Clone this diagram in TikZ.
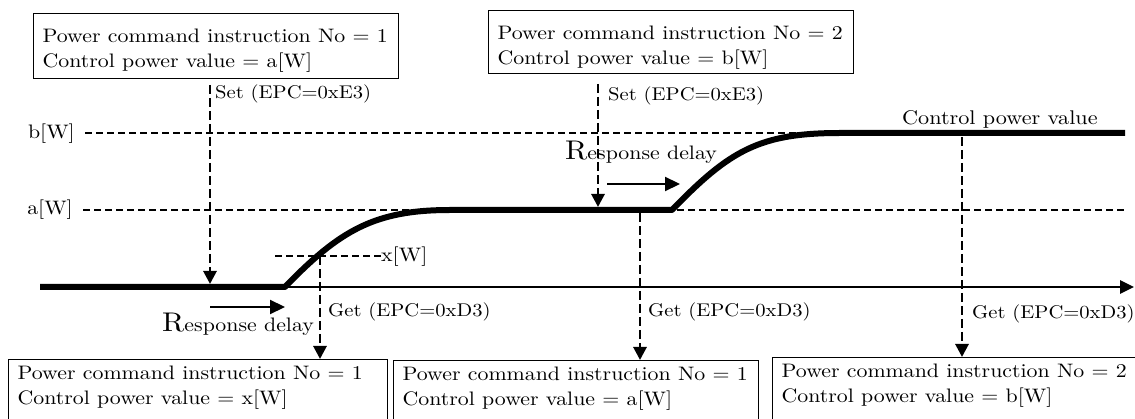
\documentclass[tikz,border=0pt]{standalone}
\usepackage{fontspec}
\setmainfont{lmroman10-regular.otf}[FakeStretch=1.12]
\usetikzlibrary{arrows.meta}
\newcommand\fs{\fontsize{19.5}{25}\selectfont}
\newcommand\fsl{\fontsize{18.4}{22}\selectfont}
\newcommand\fsc{\fontsize{19.8}{24}\selectfont}
\newcommand\bigR{{\fontsize{27}{27}\selectfont R}}
\newcommand\bxt[4]{\parbox[t][#1][t]{#2}{\raggedright\mbox{#3}\\\mbox{#4}}}
\tikzset{
  box/.style={draw, line width=1.3pt, anchor=north west, inner xsep=9pt, font=\fs},
  lab/.style={font=\fs, inner sep=0pt},
  labs/.style={font=\fsl, inner sep=0pt},
  thickline/.style={line width=6pt, line join=round},
  axisline/.style={line width=2.6pt, -{Triangle[length=14pt,width=13pt]}},
  level/.style={line width=1.6pt, dash pattern=on 7pt off 4pt},
  conn/.style={line width=2.8pt, dash pattern=on 9pt off 4pt, -{Triangle[length=13pt,width=13pt]}},
  delay/.style={line width=2.2pt, -{Triangle[length=15pt,width=14pt]}},
}
\begin{document}
\begin{tikzpicture}[x=1pt,y=-1pt]
\useasboundingbox (0,0) rectangle (1135,419);
\clip (0,0) rectangle (1135,419);
% boxes
\node[box, inner ysep=15pt] (t1) at (33,13) {\bxt{35pt}{347pt}{Power command instruction No = 1}{Control power value = a[W]}};
\node[box, inner ysep=15pt] (t2) at (488,10) {\bxt{33pt}{347pt}{Power command instruction No = 2}{Control power value = b[W]}};
\node[box, inner ysep=6.5pt] (bl) at (8,359) {\bxt{80pt}{361pt}{Power command instruction No = 1}{Control power value = x[W]}};
\node[box, inner ysep=6.5pt] (bm) at (393,360) {\bxt{80pt}{347pt}{Power command instruction No = 1}{Control power value = a[W]}};
\node[box, inner ysep=6.5pt] (br) at (772,357) {\bxt{80pt}{380pt}{Power command instruction No = 2}{Control power value = b[W]}};
% coordinates
\coordinate (axL) at (40,287);
\coordinate (c1s) at (285,287);
\coordinate (c1e) at (450,210);
\coordinate (c2s) at (672,210);
\coordinate (c2e) at (840,133);
\coordinate (thR) at (1125,133);
\coordinate (axR) at (1134,287);
\coordinate (aL) at (83,210);
\coordinate (aR) at (1125,210);
\coordinate (bL) at (85,133);
\coordinate (bR) at (840,133);
\coordinate (xL) at (275,256);
\coordinate (s1) at (210,85);
\coordinate (s1e) at (210,284);
\coordinate (s2) at (598,84);
\coordinate (s2e) at (598,207);
\coordinate (g1) at (320,256);
\coordinate (g2) at (640,213);
\coordinate (g3) at (962,137);
\coordinate (d1s) at (210,307);
\coordinate (d1e) at (285,307);
\coordinate (d2s) at (607,184);
\coordinate (d2e) at (680,184);
% labels
\node[lab, anchor=base east] (bw) at (75,139) {b[W]};
\node[lab, anchor=base east] (aw) at (73,215) {a[W]};
\node[lab, anchor=base west] (xw) at (381,262) {x[W]};
\node[labs, anchor=base west] (set1) at (215,99) {Set (EPC=0xE3)};
\node[labs, anchor=base west] (set2) at (608,101) {Set (EPC=0xE3)};
\node[labs, anchor=base west] (get1) at (328,317) {Get (EPC=0xD3)};
\node[labs, anchor=base west] (get2) at (648,317) {Get (EPC=0xD3)};
\node[labs, anchor=base west] (get3) at (972,319) {Get (EPC=0xD3)};
\node[lab, anchor=base west] (rd1) at (162,332) {\bigR esponse delay};
\node[lab, anchor=base west] (rd2) at (565,160) {\bigR esponse delay};
\node[lab, font=\fsc, anchor=base west] (cpv) at (902,125) {Control power value};
% level lines
\draw[level] (bL) -- (bR);
\draw[level] (aL) -- (aR);
\draw[level] (xL) -- (xw.west |- xL);
% axis and signal
\draw[axisline] (c1s) -- (axR);
\draw[thickline] (axL) -- (c1s) .. controls (340,230) and (375,210) .. (c1e) -- (c2s) .. controls (730,150) and (760,133) .. (c2e) -- (thR);
% set / get connectors
\draw[conn] (s1) -- (s1e);
\draw[conn] (s2) -- (s2e);
\draw[conn] (g1) -- (g1 |- bl.north);
\draw[conn] (g2) -- (g2 |- bm.north);
\draw[conn] (g3) -- (g3 |- br.north);
% response delay arrows
\draw[delay] (d1s) -- (d1e);
\draw[delay] (d2s) -- (d2e);
\end{tikzpicture}
\end{document}
